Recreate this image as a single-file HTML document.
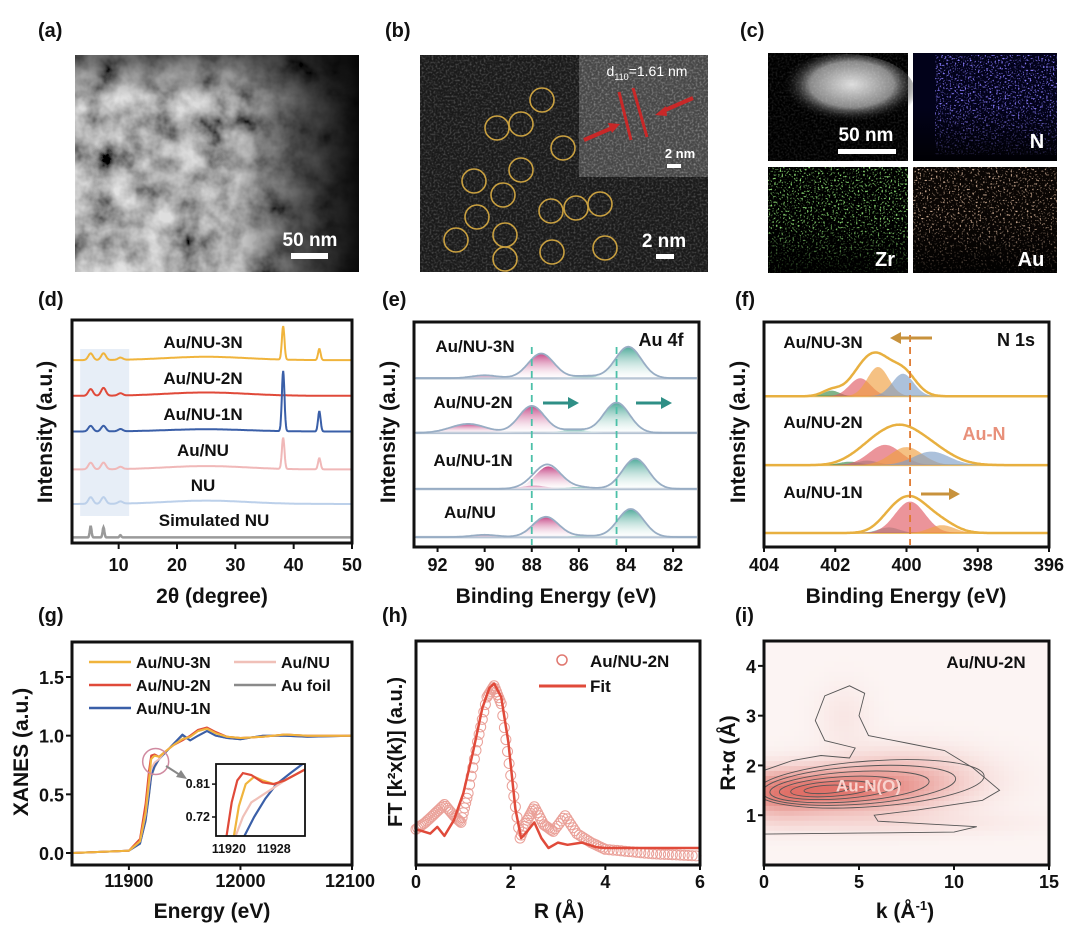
<!DOCTYPE html>
<html><head><meta charset="utf-8">
<style>
html,body{margin:0;padding:0;background:#fff;}
svg{display:block;font-family:"Liberation Sans",Arial,sans-serif;font-weight:bold;}
</style></head>
<body>
<svg id="fig" width="1080" height="930" viewBox="0 0 1080 930" xmlns="http://www.w3.org/2000/svg">
<defs>
<filter id="cloud" x="0" y="0" width="100%" height="100%" filterUnits="objectBoundingBox">
<feTurbulence type="fractalNoise" baseFrequency="0.035" numOctaves="4" seed="3"/>
<feColorMatrix type="matrix" values="1.6 0 0 0 -0.25  1.6 0 0 0 -0.25  1.6 0 0 0 -0.25  0 0 0 0 1"/>
</filter>
<filter id="grain" x="0" y="0" width="100%" height="100%">
<feTurbulence type="fractalNoise" baseFrequency="0.5" numOctaves="2" seed="7"/>
<feColorMatrix type="matrix" values="0 0 0 0 1  0 0 0 0 1  0 0 0 0 1  0 0 0 1.6 -0.7"/>
</filter>
<filter id="dotsB" x="0" y="0" width="100%" height="100%"><feTurbulence type="fractalNoise" baseFrequency="0.6" numOctaves="1" seed="2"/><feColorMatrix type="matrix" values="0 0 0 0 0.25  0 0 0 0 0.2  0 0 0 0 1  0 0 0 5 -2.7"/></filter>
<filter id="dotsG" x="0" y="0" width="100%" height="100%"><feTurbulence type="fractalNoise" baseFrequency="0.55" numOctaves="1" seed="4"/><feColorMatrix type="matrix" values="0 0 0 0 0.3  0 0 0 0 0.85  0 0 0 0 0.2  0 0 0 5 -2.75"/></filter>
<filter id="dotsO" x="0" y="0" width="100%" height="100%"><feTurbulence type="fractalNoise" baseFrequency="0.55" numOctaves="1" seed="9"/><feColorMatrix type="matrix" values="0 0 0 0 0.75  0 0 0 0 0.5  0 0 0 0 0.35  0 0 0 5 -2.85"/></filter>
<linearGradient id="aFade" x1="0" y1="0" x2="1" y2="0"><stop offset="0" stop-color="#000" stop-opacity="0.1"/><stop offset="0.55" stop-color="#000" stop-opacity="0.15"/><stop offset="0.8" stop-color="#000" stop-opacity="0.65"/><stop offset="1" stop-color="#000" stop-opacity="0.95"/></linearGradient>
<linearGradient id="aTop" x1="0" y1="0" x2="0" y2="1"><stop offset="0" stop-color="#000" stop-opacity="0.5"/><stop offset="0.2" stop-color="#000" stop-opacity="0"/></linearGradient>
<radialGradient id="cBlob" cx="0.55" cy="0.4" r="0.5"><stop offset="0" stop-color="#ddd"/><stop offset="0.6" stop-color="#888"/><stop offset="1" stop-color="#000" stop-opacity="0"/></radialGradient>
<linearGradient id="tileFade" x1="0" y1="0" x2="0" y2="1"><stop offset="0.5" stop-color="#000" stop-opacity="0"/><stop offset="1" stop-color="#000" stop-opacity="0.85"/></linearGradient>
<linearGradient id="pinkG" x1="0" y1="0" x2="0" y2="1"><stop offset="0" stop-color="#c0357a"/><stop offset="1" stop-color="#fff" stop-opacity="0.3"/></linearGradient>
<linearGradient id="tealG" x1="0" y1="0" x2="0" y2="1"><stop offset="0" stop-color="#3aa08e"/><stop offset="1" stop-color="#fff" stop-opacity="0.3"/></linearGradient>
<clipPath id="clipI"><rect x="764" y="641" width="285" height="224"/></clipPath>
<clipPath id="clipInset"><rect x="216" y="764" width="89" height="72"/></clipPath>
</defs>
<rect width="1080" height="930" fill="#fff"/>

<g font-size="20" fill="#111">
<text x="38" y="37">(a)</text><text x="385" y="37">(b)</text><text x="740" y="37">(c)</text>
<text x="38" y="306">(d)</text><text x="382" y="306">(e)</text><text x="735" y="306">(f)</text>
<text x="38" y="622">(g)</text><text x="382" y="622">(h)</text><text x="735" y="622">(i)</text>
</g>

<g>
<rect x="75" y="55" width="284" height="217" fill="#111"/>
<rect x="75" y="55" width="284" height="217" filter="url(#cloud)"/>
<rect x="75" y="55" width="284" height="217" fill="url(#aFade)"/>
<rect x="75" y="55" width="284" height="217" fill="url(#aTop)"/>
<text x="310" y="246" font-size="19" fill="#fff" text-anchor="middle">50 nm</text>
<rect x="291" y="253" width="37" height="6" fill="#fff"/>
</g>

<g>
<rect x="420" y="55" width="288" height="217" fill="#1a1a1a"/>
<rect x="420" y="55" width="288" height="217" filter="url(#grain)" opacity="0.35"/>
<rect x="579" y="55" width="129" height="122" fill="#505050" opacity="0.85"/>
<rect x="579" y="55" width="129" height="122" filter="url(#grain)" opacity="0.45"/>
<text x="647" y="76" font-size="14" fill="#fff" text-anchor="middle" font-weight="normal">d<tspan font-size="9" dy="4">110</tspan><tspan dy="-4">=1.61 nm</tspan></text>
<line x1="619" y1="92" x2="631" y2="140" stroke="#c82828" stroke-width="3"/>
<line x1="633" y1="88" x2="647" y2="137" stroke="#c82828" stroke-width="3"/>
<line x1="584" y1="140" x2="612" y2="128" stroke="#c82828" stroke-width="4"/>
<polygon points="620,124 608,123 612,133" fill="#c82828"/>
<line x1="693" y1="98" x2="663" y2="111" stroke="#c82828" stroke-width="4"/>
<polygon points="655,115 666,106 667,116" fill="#c82828"/>
<text x="680" y="158" font-size="13" fill="#fff" text-anchor="middle">2 nm</text>
<rect x="667" y="164" width="14" height="4" fill="#fff"/>
<text x="664" y="247" font-size="19" fill="#fff" text-anchor="middle">2 nm</text>
<rect x="656" y="254" width="18" height="5" fill="#fff"/>
<g fill="none" stroke="#c9a040" stroke-width="1.6">
<circle cx="542" cy="100" r="12"/><circle cx="497" cy="128" r="12"/><circle cx="521" cy="124" r="12"/><circle cx="563" cy="148" r="12"/>
<circle cx="521" cy="170" r="12"/><circle cx="474" cy="181" r="12"/><circle cx="503" cy="195" r="12"/><circle cx="477" cy="217" r="12"/>
<circle cx="551" cy="211" r="12"/><circle cx="576" cy="208" r="12"/><circle cx="600" cy="204" r="12"/><circle cx="456" cy="240" r="12"/>
<circle cx="505" cy="235" r="12"/><circle cx="552" cy="252" r="12"/><circle cx="605" cy="248" r="12"/><circle cx="505" cy="259" r="12"/>
</g>
</g>

<g>
<rect x="768" y="53" width="140" height="108" fill="#000"/>
<ellipse cx="845" cy="92" rx="70" ry="38" fill="url(#cBlob)"/>
<rect x="768" y="53" width="140" height="108" filter="url(#grain)" opacity="0.2"/>
<text x="866" y="141" font-size="19" fill="#fff" text-anchor="middle">50 nm</text>
<rect x="838" y="149" width="58" height="5" fill="#fff"/>
<rect x="913" y="53" width="144" height="108" fill="#02021a"/>
<rect x="935" y="55" width="122" height="100" filter="url(#dotsB)"/>
<rect x="913" y="53" width="144" height="108" fill="url(#tileFade)"/>
<text x="1037" y="148" font-size="20" fill="#fff" text-anchor="middle">N</text>
<rect x="768" y="167" width="140" height="106" fill="#000"/>
<rect x="768" y="167" width="140" height="106" filter="url(#dotsG)"/>
<rect x="768" y="167" width="140" height="106" fill="url(#tileFade)"/>
<text x="885" y="266" font-size="20" fill="#fff" text-anchor="middle">Zr</text>
<rect x="913" y="167" width="144" height="106" fill="#0a0604"/>
<rect x="913" y="167" width="144" height="106" filter="url(#dotsO)"/>
<rect x="913" y="167" width="144" height="106" fill="url(#tileFade)"/>
<text x="1031" y="266" font-size="20" fill="#fff" text-anchor="middle">Au</text>
</g>

<g id="charts"></g>
</svg>

<script>
// ---------- DATA ----------
const xrdNames = ['Au/NU-3N','Au/NU-2N','Au/NU-1N','Au/NU','NU','Simulated NU'];
const xrdColors = ['#f0b43c','#e04a3a','#3a5fa8','#f0b8b8','#bcd0ea','#9a9a9a'];
const xrdBase = [82, 66, 50, 33, 17.5, 2.5];
const xrdPeakPos = [5.2, 7.4, 10.3, 38.2, 44.4, 25];
const xrdPeak3N = [3, 3, 1, 15, 5, 1.5];
const xrdPeak2N = [3, 3.5, 1, 0, 0, 1.5];
const xrdPeak1N = [2.5, 2.5, 1, 27, 9, 1];
const xrdPeakAuNU = [3, 3, 1, 14, 5, 1.5];
const xrdPeakNU = [3, 3, 1, 0, 0, 1.5];
const xrdPeakSim = [5, 4.5, 1, 0, 0, 0];
const xrdTicks = [10, 20, 30, 40, 50];
const au4fNames = ['Au/NU-3N','Au/NU-2N','Au/NU-1N','Au/NU'];
const au4fBase = [75, 50.7, 25.8, 4.4];
const au4fCenters3N = [90.0, 87.6, 85.7, 83.9];
const au4fHeights3N = [1.3, 11, 1, 14];
const au4fCenters2N = [90.7, 88.0, 86.2, 84.4];
const au4fHeights2N = [4, 12, 1.5, 13.5];
const au4fCenters1N = [87.9, 87.3, 86.0, 83.6];
const au4fHeights1N = [1.5, 10, 0.8, 13.5];
const au4fCentersAuNU = [90.0, 87.4, 85.8, 83.8];
const au4fHeightsAuNU = [1.0, 9, 0.6, 12.5];
const au4fDashed = [88.0, 84.4];
const au4fTicks = [92, 90, 88, 86, 84, 82];
const n1sNames = ['Au/NU-3N','Au/NU-2N','Au/NU-1N'];
const n1sBase = [67, 36.4, 6.2];
const n1sCenters3N = [402.1, 401.3, 400.8, 400.1];
const n1sHeights3N = [2.5, 8, 13, 10];
const n1sCenters2N = [401.6, 401.1, 400.6, 400.0, 399.3];
const n1sHeights2N = [1.5, 2, 9, 8, 6];
const n1sCenters1N = [400.5, 399.9, 399.0];
const n1sHeights1N = [2.5, 14, 3.5];
const n1sDashed = 399.9;
const n1sTicks = [404, 402, 400, 398, 396];
const xanesE = [11850,11900,11910,11915,11918,11920,11923,11927,11932,11940,11948,11955,11962,11970,11978,11988,12000,12020,12040,12060,12100];
const xanes3N = [0,0.02,0.1,0.35,0.62,0.80,0.83,0.82,0.86,0.92,0.97,0.99,1.04,1.06,1.02,0.99,0.98,0.99,1.01,1.0,1.0];
const xanes2N = [0,0.02,0.12,0.42,0.70,0.83,0.84,0.82,0.86,0.92,0.96,1.0,1.05,1.07,1.03,0.99,0.98,0.99,1.01,1.0,1.0];
const xanes1N = [0,0.02,0.08,0.28,0.5,0.66,0.74,0.8,0.85,0.93,1.01,0.96,1.0,1.04,1.0,0.98,0.97,1.0,1.0,0.99,1.0];
const xanesAuNU = [0,0.02,0.1,0.33,0.58,0.72,0.77,0.8,0.86,0.92,0.97,0.99,1.04,1.06,1.02,0.99,0.98,0.99,1.01,1.0,1.0];
const xanesFoil = [0,0.02,0.08,0.27,0.49,0.65,0.73,0.8,0.85,0.93,1.0,0.96,1.0,1.04,1.0,0.98,0.97,1.0,1.0,0.99,1.0];
const xanesXTicks = [11900, 12000, 12100];
const xanesYTicks = [0.0, 0.5, 1.0, 1.5];
const insetE3N = [11920.8,11921.8,11923,11924.5,11926,11928,11930,11933.6];
const inset3N = [0.66,0.75,0.81,0.83,0.82,0.81,0.82,0.85];
const insetE2N = [11919.5,11920.5,11921.5,11922.5,11924,11926,11928,11930,11933.6];
const inset2N = [0.66,0.76,0.82,0.84,0.835,0.815,0.81,0.82,0.85];
const insetEAuNU = [11921,11922.5,11924,11926,11928,11930,11933.6];
const insetAuNU = [0.66,0.72,0.76,0.78,0.80,0.82,0.85];
const insetE1N = [11922.5,11924.5,11926.5,11928.5,11931,11933.6];
const inset1N = [0.66,0.72,0.77,0.81,0.84,0.87];
const insetXTicks = [11920, 11928];
const insetYTicks = [0.72, 0.81];
const ftRfit = [0,0.3,0.45,0.6,0.8,1.0,1.2,1.4,1.55,1.65,1.8,1.95,2.1,2.22,2.35,2.5,2.65,2.8,3.0,3.2,3.5,3.8,4.0,5.0,6.0];
const ftFit = [0.16,0.14,0.17,0.13,0.2,0.32,0.5,0.7,0.79,0.81,0.75,0.55,0.25,0.12,0.15,0.19,0.12,0.076,0.1,0.09,0.1,0.08,0.076,0.076,0.076];
const ftRdata = [0,0.2,0.4,0.6,0.8,0.95,1.1,1.3,1.5,1.65,1.8,2.0,2.2,2.35,2.5,2.7,2.9,3.15,3.4,3.7,4.0,4.5,5.0,5.5,6.0];
const ftData = [0.16,0.19,0.23,0.27,0.22,0.19,0.32,0.55,0.75,0.80,0.72,0.40,0.12,0.2,0.26,0.18,0.15,0.22,0.14,0.1,0.07,0.06,0.05,0.045,0.04];
const ftTicks = [0, 2, 4, 6];
const wtBlobK = [3.2, 7.5, 4.2, 6.0, 0.5];
const wtBlobR = [1.5, 1.8, 3.0, 0.85, 1.4];
const wtBlobSK = [3.5, 2.8, 1.0, 5.0, 1.5];
const wtBlobSR = [0.3, 0.38, 0.45, 0.18, 0.35];
const wtBlobA = [0.6, 0.25, 0.07, 0.1, 0.2];
const wtEllK = [3.3, 3.6, 4.0, 4.5, 5.0, 5.6];
const wtEllR = [1.52, 1.53, 1.55, 1.57, 1.6, 1.63];
const wtEllRK = [1.2, 2.2, 3.2, 4.2, 5.1, 6.0];
const wtEllRR = [0.08, 0.15, 0.22, 0.3, 0.38, 0.46];
const wtOuterK = [0,1.5,3,4.5,4.8,3.2,2.7,3.2,4.5,5.3,5.0,5.5,7.5,9.5,11,12.4,11.5,8,5.8,6,11.2,10,5,0];
const wtOuterR = [1.9,2.1,2.2,2.15,2.35,2.5,2.9,3.4,3.6,3.45,3.0,2.6,2.45,2.3,1.95,1.5,1.3,1.1,1.0,0.88,0.77,0.66,0.64,0.62];
const wtXTicks = [0, 5, 10, 15];
const wtYTicks = [1, 2, 3, 4];

// ---------- HELPERS ----------
const NS = 'http://www.w3.org/2000/svg';
const root = document.getElementById('charts');
function mk(tag, attrs, name, parent) {
  const el = document.createElementNS(NS, tag);
  for (const k in attrs) el.setAttribute(k, attrs[k]);
  
  
  (parent || root).appendChild(el);
  return el;
}
function txt(x, y, s, size, name, extra, parent) {
  const a = Object.assign({x: x, y: y, 'font-size': size, fill: '#111', 'text-anchor': 'middle'}, extra || {});
  const t = mk('text', a, name, parent);
  t.textContent = s;
  return t;
}
function lin(d0, d1, r0, r1) { return v => r0 + (v - d0) * (r1 - r0) / (d1 - d0); }
function gauss(x, c, h, s) { return h * Math.exp(-((x - c) * (x - c)) / (2 * s * s)); }
function polyPath(xs, ys, sx, sy) { return xs.map((v, i) => (i ? 'L' : 'M') + sx(v).toFixed(1) + ',' + sy(ys[i]).toFixed(1)).join(''); }
function frame(x, y, w, h, name) { mk('rect', {x: x, y: y, width: w, height: h, fill: 'none', stroke: '#111', 'stroke-width': 3}, name); }
function vLabel(x, y, s, name, size) { txt(0, 0, s, size || 21, name, {transform: 'translate(' + x + ',' + y + ') rotate(-90)'}); }

// ---------- (d) XRD ----------
(function () {
  const X = lin(2, 50, 72, 352), Y = lin(0, 100, 543, 320);
  mk('rect', {x: X(3.4), y: 349, width: X(11.8) - X(3.4), height: 167, fill: '#e7eef7'}, 'highlight-low-angle');
  const peaks = [xrdPeak3N, xrdPeak2N, xrdPeak1N, xrdPeakAuNU, xrdPeakNU, xrdPeakSim];
  peaks.forEach((pk, si) => {
    let d = '';
    for (let t = 2.2; t <= 50; t += 0.08) {
      let v = xrdBase[si];
      xrdPeakPos.forEach((p, j) => {
        const s = j === 5 ? 7 : (j >= 3 ? 0.22 : (si === 5 ? 0.15 : 0.4));
        v += gauss(t, p, pk[j], s);
      });
      d += (d ? 'L' : 'M') + X(t).toFixed(1) + ',' + Y(v).toFixed(1);
    }
    mk('path', {d: d, fill: 'none', stroke: xrdColors[si], 'stroke-width': si === 5 ? 2.5 : 2}, 'xrd-curve-' + si);
  });
  const labY = [342, 378, 414, 450, 485, 520];
  xrdNames.forEach((n, i) => txt(i === 5 ? 214 : 203, labY[i] + 6, n, 17, 'xrd-series-label'));
  frame(72, 320, 280, 223, 'xrd-plot-frame');
  xrdTicks.forEach(t => { mk('line', {x1: X(t), y1: 543, x2: X(t), y2: 549, stroke: '#111', 'stroke-width': 2}, 'x-tick'); txt(X(t), 571, String(t), 18, 'x-tick-label'); });
  txt(212, 603, '2θ (degree)', 21, 'x-axis-title');
  vLabel(52, 432, 'Intensity (a.u.)', 'y-axis-title');
})();

// ---------- (e) Au 4f ----------
(function () {
  const X = lin(93, 80.9, 414, 699), Y = lin(0, 100, 547, 322);
  const cs = [au4fCenters3N, au4fCenters2N, au4fCenters1N, au4fCentersAuNU];
  const hs = [au4fHeights3N, au4fHeights2N, au4fHeights1N, au4fHeightsAuNU];
  cs.forEach((cc, si) => {
    const b = au4fBase[si];
    mk('line', {x1: 416, y1: Y(b), x2: 697, y2: Y(b), stroke: '#b4c2d2', 'stroke-width': 2.5}, 'au4f-baseline');
    cc.forEach((c, j) => {
      const s = (j === 0 && si === 1) ? 0.75 : 0.55;
      let d = 'M' + X(c - 2.5) + ',' + Y(b);
      for (let e = c - 2.5; e <= c + 2.5; e += 0.05) d += 'L' + X(e).toFixed(1) + ',' + Y(b + gauss(e, c, hs[si][j], s)).toFixed(1);
      d += 'L' + X(c + 2.5) + ',' + Y(b) + 'Z';
      mk('path', {d: d, fill: c > 86.5 ? 'url(#pinkG)' : 'url(#tealG)', opacity: 0.9}, 'au4f-component');
    });
    let d = '';
    for (let e = 93; e >= 81; e -= 0.05) {
      let v = b;
      cc.forEach((c, j) => v += gauss(e, c, hs[si][j], (j === 0 && si === 1) ? 0.75 : 0.55));
      d += (d ? 'L' : 'M') + X(e).toFixed(1) + ',' + Y(v).toFixed(1);
    }
    mk('path', {d: d, fill: 'none', stroke: '#98adc4', 'stroke-width': 1.8}, 'au4f-envelope');
  });
  au4fDashed.forEach(v => mk('line', {x1: X(v), y1: 347, x2: X(v), y2: 545, stroke: '#4cc0a8', 'stroke-width': 1.8, 'stroke-dasharray': '7,5'}, 'au4f-reference-line'));
  const ly = [352, 408, 466, 518], lx = [475, 473, 473, 470];
  au4fNames.forEach((n, i) => txt(lx[i], ly[i], n, 17, 'au4f-series-label'));
  txt(661, 346, 'Au 4f', 18, 'au4f-title-label');
  [[543, 579], [636, 672]].forEach(a => {
    mk('line', {x1: a[0], y1: 403, x2: a[1] - 8, y2: 403, stroke: '#2f8f86', 'stroke-width': 3}, 'shift-arrow');
    mk('polygon', {points: (a[1]) + ',403 ' + (a[1] - 11) + ',397 ' + (a[1] - 11) + ',409', fill: '#2f8f86'}, 'shift-arrow-head');
  });
  frame(414, 322, 285, 225, 'au4f-plot-frame');
  au4fTicks.forEach(t => { mk('line', {x1: X(t), y1: 547, x2: X(t), y2: 552, stroke: '#111', 'stroke-width': 2}, 'x-tick'); txt(X(t), 571, String(t), 18, 'x-tick-label'); });
  txt(556, 603, 'Binding Energy (eV)', 21, 'x-axis-title');
  vLabel(395, 432, 'Intensity (a.u.)', 'y-axis-title');
})();

// ---------- (f) N 1s ----------
(function () {
  const X = lin(404, 396, 764, 1049), Y = lin(0, 100, 547, 322);
  const cs = [n1sCenters3N, n1sCenters2N, n1sCenters1N];
  const hs = [n1sHeights3N, n1sHeights2N, n1sHeights1N];
  const cols = [['#3a8a4a', '#e05a64', '#f0a040', '#7fa0c8'], ['#3a8a4a', '#5ab0a8', '#e05a64', '#f0a040', '#7fa0c8'], ['#5ab0a8', '#e05a64', '#f0a040']];
  const sig = [[0.22, 0.3, 0.3, 0.3], [0.3, 0.3, 0.45, 0.45, 0.5], [0.3, 0.42, 0.35]];
  cs.forEach((cc, si) => {
    const b = n1sBase[si];
    mk('line', {x1: 766, y1: Y(b), x2: 1047, y2: Y(b), stroke: '#ecc068', 'stroke-width': 2}, 'n1s-baseline');
    cc.forEach((c, j) => {
      let d = 'M' + X(c + 1.6) + ',' + Y(b);
      for (let e = c + 1.6; e >= c - 1.6; e -= 0.03) d += 'L' + X(e).toFixed(1) + ',' + Y(b + gauss(e, c, hs[si][j], sig[si][j])).toFixed(1);
      d += 'L' + X(c - 1.6) + ',' + Y(b) + 'Z';
      mk('path', {d: d, fill: cols[si][j], opacity: 0.65}, 'n1s-component');
    });
    let d = '';
    for (let e = 404; e >= 396; e -= 0.03) {
      let v = b;
      cc.forEach((c, j) => v += gauss(e, c, hs[si][j] * 1.1, sig[si][j] * 1.2));
      d += (d ? 'L' : 'M') + X(e).toFixed(1) + ',' + Y(v).toFixed(1);
    }
    mk('path', {d: d, fill: 'none', stroke: '#e8b040', 'stroke-width': 2.5}, 'n1s-envelope');
  });
  mk('line', {x1: X(n1sDashed), y1: 335, x2: X(n1sDashed), y2: 545, stroke: '#e07a30', 'stroke-width': 1.8, 'stroke-dasharray': '7,5'}, 'n1s-reference-line');
  const ly = [348, 428, 498];
  n1sNames.forEach((n, i) => txt(823, ly[i], n, 17, 'n1s-series-label'));
  txt(1016, 346, 'N 1s', 18, 'n1s-title-label');
  txt(984, 440, 'Au-N', 18, 'au-n-label', {fill: '#e8907a'});
  mk('line', {x1: 932, y1: 338, x2: 900, y2: 338, stroke: '#c8923c', 'stroke-width': 3}, 'shift-arrow');
  mk('polygon', {points: '890,338 901,332 901,344', fill: '#c8923c'}, 'shift-arrow-head');
  mk('line', {x1: 921, y1: 494, x2: 950, y2: 494, stroke: '#c8923c', 'stroke-width': 3}, 'shift-arrow');
  mk('polygon', {points: '960,494 949,488 949,500', fill: '#c8923c'}, 'shift-arrow-head');
  frame(764, 322, 285, 225, 'n1s-plot-frame');
  n1sTicks.forEach(t => { mk('line', {x1: X(t), y1: 547, x2: X(t), y2: 552, stroke: '#111', 'stroke-width': 2}, 'x-tick'); txt(X(t), 571, String(t), 18, 'x-tick-label'); });
  txt(906, 603, 'Binding Energy (eV)', 21, 'x-axis-title');
  vLabel(745, 432, 'Intensity (a.u.)', 'y-axis-title');
})();

// ---------- (g) XANES ----------
(function () {
  const X = lin(11849, 12100, 72, 352), Y = lin(0, 1.5, 853, 677);
  const series = [xanesFoil, xanes1N, xanesAuNU, xanes2N, xanes3N];
  const cols = ['#8a8a8a', '#3a5fa8', '#f0c0b8', '#e04a3a', '#f0b43c'];
  series.forEach((s, i) => mk('path', {d: polyPath(xanesE, s, X, Y), fill: 'none', stroke: cols[i], 'stroke-width': 2, 'stroke-linejoin': 'round'}, 'xanes-curve-' + i));
  mk('circle', {cx: X(11924), cy: Y(0.78), r: 13, fill: 'none', stroke: '#d08aa0', 'stroke-width': 1.5}, 'zoom-circle');
  mk('line', {x1: 166, y1: 766, x2: 180, y2: 775, stroke: '#888', 'stroke-width': 2}, 'zoom-arrow');
  mk('polygon', {points: '187,779 176,777 181,770', fill: '#888'}, 'zoom-arrow-head');
  const lg = [['Au/NU-3N', '#f0b43c', 89, 662], ['Au/NU-2N', '#e04a3a', 89, 685], ['Au/NU-1N', '#3a5fa8', 89, 708], ['Au/NU', '#f0c0b8', 234, 662], ['Au foil', '#8a8a8a', 234, 685]];
  lg.forEach(l => { mk('line', {x1: l[2], y1: l[3], x2: l[2] + 42, y2: l[3], stroke: l[1], 'stroke-width': 2.5}, 'legend-swatch'); txt(l[2] + 47, l[3] + 6, l[0], 16, 'legend-entry', {'text-anchor': 'start'}); });
  const IX = lin(11917.7, 11933.6, 216, 305), IY = lin(0.668, 0.865, 836, 764);
  mk('rect', {x: 216, y: 764, width: 89, height: 72, fill: '#fff'}, 'inset-background');
  const ig = mk('g', {'clip-path': 'url(#clipInset)'}, 'inset-curves');
  [[insetE1N, inset1N, '#3a5fa8'], [insetEAuNU, insetAuNU, '#f0c0b8'], [insetE3N, inset3N, '#f0b43c'], [insetE2N, inset2N, '#e04a3a']].forEach(s =>
    mk('path', {d: polyPath(s[0], s[1], IX, IY), fill: 'none', stroke: s[2], 'stroke-width': 2.2}, 'inset-curve', ig));
  mk('rect', {x: 216, y: 764, width: 89, height: 72, fill: 'none', stroke: '#111', 'stroke-width': 1.8}, 'inset-frame');
  insetXTicks.forEach(t => txt(IX(t), 853, String(t), 12.5, 'inset-x-tick-label'));
  insetYTicks.forEach(t => { mk('line', {x1: 212, y1: IY(t), x2: 216, y2: IY(t), stroke: '#111', 'stroke-width': 1.5}, 'inset-y-tick'); txt(210, IY(t) + 4, t.toFixed(2), 12.5, 'inset-y-tick-label', {'text-anchor': 'end'}); });
  frame(72, 642, 280, 223, 'xanes-plot-frame');
  xanesXTicks.forEach(t => { mk('line', {x1: X(t), y1: 865, x2: X(t), y2: 870, stroke: '#111', 'stroke-width': 2}, 'x-tick'); txt(Math.min(X(t), 350), 887, String(t), 18, 'x-tick-label'); });
  xanesYTicks.forEach(t => { mk('line', {x1: 66, y1: Y(t), x2: 72, y2: Y(t), stroke: '#111', 'stroke-width': 2}, 'y-tick'); txt(64, Y(t) + 7, t.toFixed(1), 18, 'y-tick-label', {'text-anchor': 'end'}); });
  txt(212, 918, 'Energy (eV)', 21, 'x-axis-title');
  vLabel(28, 752, 'XANES (a.u.)', 'y-axis-title');
})();

// ---------- (h) FT-EXAFS ----------
(function () {
  const X = lin(0, 6, 416, 700), Y = lin(0, 1, 865, 641);
  const dg = mk('g', {}, 'ft-data-points');
  for (let i = 0; i < ftRdata.length - 1; i++) {
    for (let k = 0; k < 6; k++) {
      const f = k / 6, r = ftRdata[i] + f * (ftRdata[i + 1] - ftRdata[i]);
      const v = ftData[i] + f * (ftData[i + 1] - ftData[i]);
      mk('circle', {cx: X(r).toFixed(1), cy: Y(v).toFixed(1), r: 5, fill: 'none', stroke: '#eaa098', 'stroke-width': 1}, 'ft-data-point', dg);
    }
  }
  mk('path', {d: polyPath(ftRfit, ftFit, X, Y), fill: 'none', stroke: '#e04a3a', 'stroke-width': 2.5, 'stroke-linejoin': 'round'}, 'ft-fit-line');
  mk('circle', {cx: 562, cy: 660, r: 5, fill: 'none', stroke: '#e07870', 'stroke-width': 1.5}, 'legend-marker');
  txt(590, 667, 'Au/NU-2N', 17, 'legend-entry', {'text-anchor': 'start'});
  mk('line', {x1: 539, y1: 686, x2: 586, y2: 686, stroke: '#e04a3a', 'stroke-width': 3}, 'legend-swatch');
  txt(590, 692, 'Fit', 17, 'legend-entry', {'text-anchor': 'start'});
  frame(416, 641, 284, 224, 'ft-plot-frame');
  ftTicks.forEach(t => { mk('line', {x1: X(t), y1: 865, x2: X(t), y2: 870, stroke: '#111', 'stroke-width': 2}, 'x-tick'); txt(X(t), 888, String(t), 18, 'x-tick-label'); });
  txt(559, 918, 'R (Å)', 21, 'x-axis-title');
  vLabel(402, 752, 'FT [k²x(k)] (a.u.)', 'y-axis-title', 20);
})();

// ---------- (i) WT-EXAFS ----------
(function () {
  const X = lin(0, 15, 764, 1049), Y = lin(0, 4.5, 865, 641);
  const g = mk('g', {'clip-path': 'url(#clipI)'}, 'wt-heatmap');
  const nk = 57, nr = 45;
  for (let i = 0; i < nk; i++) for (let j = 0; j < nr; j++) {
    const k = (i + 0.5) * 15 / nk, R = (j + 0.5) * 4.5 / nr;
    let v = 0.03;
    wtBlobK.forEach((bk, b) => v += wtBlobA[b] * Math.exp(-((k - bk) ** 2) / (2 * wtBlobSK[b] ** 2) - ((R - wtBlobR[b]) ** 2) / (2 * wtBlobSR[b] ** 2)));
    v = Math.min(1, v);
    const c = [253 - v * 40, 250 - v * 190, 249 - v * 200].map(Math.round);
    mk('rect', {x: X(k - 7.5 / nk).toFixed(1), y: Y(R + 2.25 / nr).toFixed(1), width: (285 / nk + 0.6).toFixed(2), height: (224 / nr + 0.6).toFixed(2), fill: 'rgb(' + c.join(',') + ')'}, 'heatmap-cell', g);
  }
  mk('path', {d: polyPath(wtOuterK, wtOuterR, X, Y), fill: 'none', stroke: '#555', 'stroke-width': 0.9}, 'wt-contour-outer', g);
  wtEllK.forEach((k, i) => mk('ellipse', {cx: X(k), cy: Y(wtEllR[i]), rx: wtEllRK[i] * 19, ry: wtEllRR[i] * 49.8, fill: 'none', stroke: '#555', 'stroke-width': 0.9, transform: 'rotate(-4 ' + X(k) + ' ' + Y(wtEllR[i]) + ')'}, 'wt-contour', g));
  txt(X(5.5), Y(1.6) + 6, 'Au-N(O)', 17, 'au-n-o-label', {fill: '#f8d4cf'});
  txt(986, 668, 'Au/NU-2N', 17, 'wt-sample-label');
  frame(764, 641, 285, 224, 'wt-plot-frame');
  wtXTicks.forEach(t => { mk('line', {x1: X(t), y1: 865, x2: X(t), y2: 870, stroke: '#111', 'stroke-width': 2}, 'x-tick'); txt(X(t), 888, String(t), 18, 'x-tick-label'); });
  wtYTicks.forEach(t => { mk('line', {x1: 758, y1: Y(t), x2: 764, y2: Y(t), stroke: '#111', 'stroke-width': 2}, 'y-tick'); txt(756, Y(t) + 7, String(t), 18, 'y-tick-label', {'text-anchor': 'end'}); });
  const xt = txt(905, 918, 'k (Å', 21, 'x-axis-title');
  const sup = document.createElementNS(NS, 'tspan'); sup.setAttribute('font-size', '13'); sup.setAttribute('dy', '-8'); sup.textContent = '-1'; xt.appendChild(sup);
  const cl = document.createElementNS(NS, 'tspan'); cl.setAttribute('dy', '8'); cl.textContent = ')'; xt.appendChild(cl);
  vLabel(735, 753, 'R+α (Å)', 'y-axis-title');
})();
</script>
</body></html>
